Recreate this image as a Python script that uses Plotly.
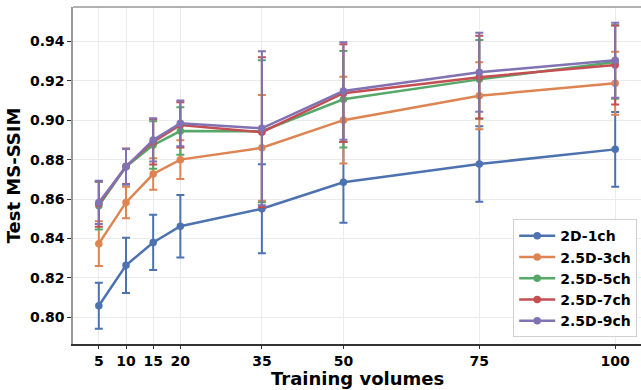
import plotly.graph_objects as go

volumes = [5, 10, 15, 20, 35, 50, 75, 100]
series_names = ["2D-1ch", "2.5D-3ch", "2.5D-5ch", "2.5D-7ch", "2.5D-9ch"]
mean_2d1 = [0.8059, 0.8264, 0.8380, 0.8462, 0.8551, 0.8685, 0.8778, 0.8852]
err_2d1 = [0.0117, 0.0140, 0.0140, 0.0158, 0.0226, 0.0205, 0.0191, 0.0190]
mean_3ch = [0.8374, 0.8583, 0.8727, 0.8800, 0.8860, 0.9000, 0.9124, 0.9187]
err_3ch = [0.0113, 0.0080, 0.0080, 0.0098, 0.0268, 0.0220, 0.0170, 0.0160]
mean_5ch = [0.8566, 0.8764, 0.8874, 0.8945, 0.8944, 0.9106, 0.9207, 0.9295]
err_5ch = [0.0120, 0.0090, 0.0120, 0.0120, 0.0360, 0.0245, 0.0200, 0.0186]
mean_7ch = [0.8575, 0.8766, 0.8890, 0.8976, 0.8939, 0.9137, 0.9218, 0.9280]
err_7ch = [0.0115, 0.0090, 0.0115, 0.0115, 0.0380, 0.0248, 0.0210, 0.0200]
mean_9ch = [0.8583, 0.8764, 0.8900, 0.8984, 0.8959, 0.9148, 0.9243, 0.9304]
err_9ch = [0.0110, 0.0090, 0.0110, 0.0116, 0.0390, 0.0247, 0.0200, 0.0190]
y_ticks = [0.80, 0.82, 0.84, 0.86, 0.88, 0.90, 0.92, 0.94]

colors = ["#4C72B0", "#DD8452", "#55A868", "#C44E52", "#8172B3"]
means = [mean_2d1, mean_3ch, mean_5ch, mean_7ch, mean_9ch]
errs = [err_2d1, err_3ch, err_5ch, err_7ch, err_9ch]

fig = go.Figure()
for name, m, e, c in zip(series_names, means, errs, colors):
    fig.add_trace(go.Scatter(
        x=volumes, y=m, name=name, mode="lines+markers",
        line=dict(color=c, width=2.5),
        marker=dict(color=c, size=7.5),
        error_y=dict(type="data", array=e, visible=True, color=c, thickness=2, width=4),
    ))

font_family = "DejaVu Sans"
fig.update_layout(
    width=641, height=390,
    margin=dict(l=73, r=0, t=7, b=46),
    plot_bgcolor="white", paper_bgcolor="white",
    font=dict(family=font_family, size=14, color="black"),
    showlegend=True,
    legend=dict(
        x=0.775, y=0.02, xanchor="left", yanchor="bottom",
        bgcolor="rgba(255,255,255,0.9)", bordercolor="#d0d0d0", borderwidth=1,
        font=dict(family=font_family, size=14, color="black", weight="bold"),
        tracegroupgap=0, itemwidth=36,
    ),
    xaxis=dict(
        range=[0.25, 104.75], tickmode="array", tickvals=volumes,
        ticktext=[str(v) for v in volumes],
        showgrid=True, gridcolor="#ebebeb", gridwidth=1,
        showline=True, linecolor="#333333", linewidth=1.5,
        ticks="outside", ticklen=3, tickcolor="#333333",
        tickfont=dict(family=font_family, size=14, weight="bold"),
        zeroline=False,
    ),
    yaxis=dict(
        range=[0.7865, 0.9574], tickmode="array", tickvals=y_ticks,
        ticktext=[f"{t:.2f}" for t in y_ticks],
        showgrid=True, gridcolor="#ebebeb", gridwidth=1,
        showline=True, linecolor="#999999", linewidth=1.5,
        ticks="outside", ticklen=4, tickcolor="#333333",
        tickfont=dict(family=font_family, size=14, weight="bold"),
        title=dict(text="<b>Test MS-SSIM</b>", font=dict(size=18), standoff=5),
        zeroline=False,
    ),
)
fig.add_annotation(text="<b>Training volumes</b>", xref="paper", yref="paper",
                   x=0.5, y=-0.101, xanchor="center", yanchor="middle",
                   showarrow=False, font=dict(family=font_family, size=18, color="black"))
fig.add_shape(type="line", xref="paper", yref="paper", x0=0, x1=1, y0=1, y1=1,
              line=dict(color="#999999", width=1.5))

fig.write_html("out.html")
